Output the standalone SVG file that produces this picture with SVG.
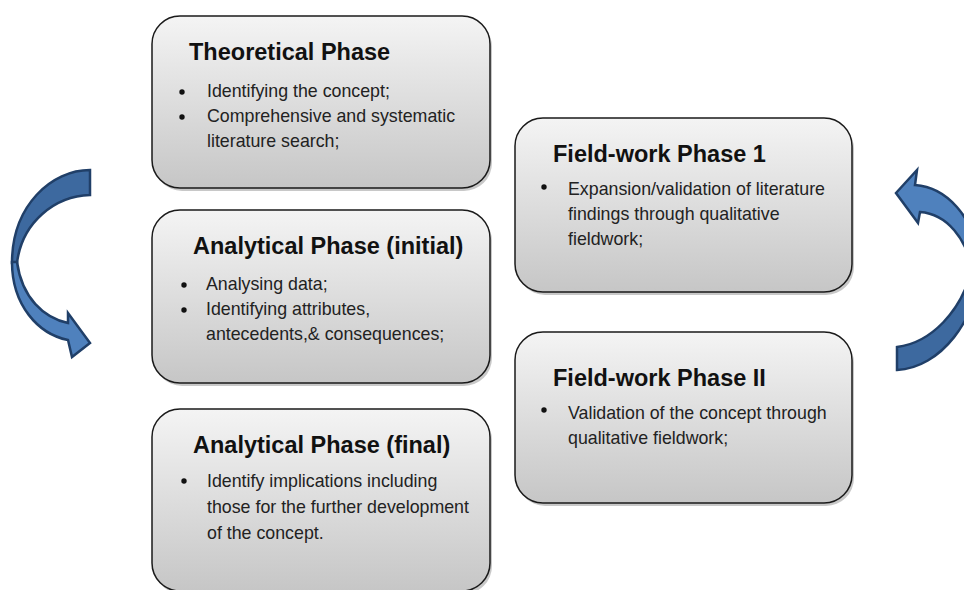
<svg xmlns="http://www.w3.org/2000/svg" width="964" height="590" viewBox="0 0 964 590">
<defs>
<linearGradient id="boxg" x1="0" y1="0" x2="0" y2="1">
<stop offset="0" stop-color="#f4f4f4"/>
<stop offset="1" stop-color="#c6c6c6"/>
</linearGradient>
</defs>
<style>
.box{fill:url(#boxg);stroke:#1a1a1a;stroke-width:1.5}
.shadow{fill:#9a9a9a;opacity:0.55}
.title{font-family:"Liberation Sans",Arial,sans-serif;font-weight:bold;font-size:23.5px;fill:#111}
.body{font-family:"Liberation Sans",Arial,sans-serif;font-size:17.8px;fill:#222}
.bul{fill:#111}
.arrDark{fill:#3d699f;stroke:#203f68;stroke-width:2.5;stroke-linejoin:miter}
.arrLight{fill:#4f81bd;stroke:#203f68;stroke-width:2.5;stroke-linejoin:miter}
</style>
<rect width="964" height="590" fill="#ffffff"/>

<g id="connectors">
<g id="arrow-left">
<path class="arrDark" d="M90,170 L90,195 C55,196 22,222 17,263 L12,263 C12,205 52,170 90,170 Z"/>
<path class="arrLight" d="M12,262 C12,305 38,334 68,340 L72,357 L90,343 L68,313 L68,323 C44,318 22,298 17,262 Z"/>
</g>
<g id="arrow-right">
<path class="arrDark" d="M897,347 C930,343 962,312 972,268 L980,265 C978,320 940,368 897,370 Z"/>
<path class="arrLight" d="M915,185 C945,187 975,215 980,265 L972,268 C966,240 948,214 920,212 L918,223 L896,193 L917,170 Z"/>
</g>
</g>

<g id="theoretical">
<rect class="shadow" x="154" y="19" width="338" height="172" rx="28"/>
<rect class="box" x="152" y="16" width="338" height="172" rx="28"/>
<text class="title" x="189" y="60">Theoretical Phase</text>
<circle class="bul" cx="182" cy="92" r="2.7"/>
<text class="body" x="207" y="97">Identifying the concept;</text>
<circle class="bul" cx="182" cy="117" r="2.7"/>
<text class="body" x="207" y="122">Comprehensive and systematic</text>
<text class="body" x="207" y="147">literature search;</text>
</g>

<g id="analytical-initial">
<rect class="shadow" x="154" y="213" width="338" height="173" rx="28"/>
<rect class="box" x="152" y="210" width="338" height="173" rx="28"/>
<text class="title" x="193" y="254">Analytical Phase (initial)</text>
<circle class="bul" cx="184" cy="285" r="2.7"/>
<text class="body" x="206" y="290">Analysing data;</text>
<circle class="bul" cx="184" cy="310" r="2.7"/>
<text class="body" x="206" y="315">Identifying attributes,</text>
<text class="body" x="206" y="340">antecedents,&amp; consequences;</text>
</g>

<g id="analytical-final">
<rect class="shadow" x="154" y="412" width="338" height="182" rx="28"/>
<rect class="box" x="152" y="409" width="338" height="182" rx="28"/>
<text class="title" x="193" y="453">Analytical Phase (final)</text>
<circle class="bul" cx="184" cy="481" r="2.7"/>
<text class="body" x="207" y="487">Identify implications including</text>
<text class="body" x="207" y="513">those for the further development</text>
<text class="body" x="207" y="539">of the concept.</text>
</g>

<g id="fieldwork-1">
<rect class="shadow" x="517" y="121" width="337" height="174" rx="28"/>
<rect class="box" x="515" y="118" width="337" height="174" rx="28"/>
<text class="title" x="553" y="162">Field-work Phase 1</text>
<circle class="bul" cx="544" cy="187" r="2.7"/>
<text class="body" x="568" y="195">Expansion/validation of literature</text>
<text class="body" x="568" y="220">findings through qualitative</text>
<text class="body" x="568" y="245">fieldwork;</text>
</g>

<g id="fieldwork-2">
<rect class="shadow" x="517" y="335" width="337" height="171" rx="28"/>
<rect class="box" x="515" y="332" width="337" height="171" rx="28"/>
<text class="title" x="553" y="386">Field-work Phase II</text>
<circle class="bul" cx="544" cy="410" r="2.7"/>
<text class="body" x="568" y="419">Validation of the concept through</text>
<text class="body" x="568" y="444">qualitative fieldwork;</text>
</g>
</svg>
